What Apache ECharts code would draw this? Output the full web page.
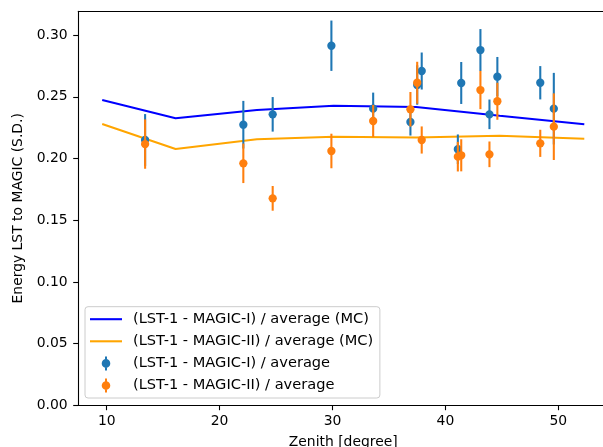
<!DOCTYPE html>
<html>
<head>
<meta charset="utf-8">
<script src="https://cdn.jsdelivr.net/npm/echarts@6/dist/echarts.min.js"></script>
<style>
html,body{margin:0;padding:0;background:#fff;overflow:hidden;}
#chart{width:603px;height:447px;}
</style>
</head>
<body>
<div id="chart"></div>
<script>
// Measured points (zenith in degrees)
var zenith = [13.4, 22.1, 24.7, 29.9, 33.6, 36.9, 37.5, 37.9, 41.1, 41.4, 43.1, 43.9, 44.6, 48.4, 49.6];
// (LST-1 - MAGIC-I) / average
var magic1Val = [0.215, 0.2274, 0.2358, 0.2914, 0.2404, 0.2296, 0.2596, 0.2709, 0.2075, 0.2612, 0.2879, 0.2358, 0.2663, 0.2614, 0.2404];
var magic1Err = [0.021, 0.0193, 0.014, 0.0204, 0.013, 0.011, 0.016, 0.015, 0.012, 0.017, 0.017, 0.012, 0.016, 0.0135, 0.029];
// (LST-1 - MAGIC-II) / average
var magic2Val = [0.2117, 0.1961, 0.1677, 0.2061, 0.2304, 0.2399, 0.2614, 0.215, 0.2015, 0.2026, 0.2555, 0.2034, 0.2464, 0.2123, 0.2258];
var magic2Err = [0.02, 0.016, 0.01, 0.014, 0.013, 0.014, 0.017, 0.011, 0.012, 0.013, 0.0155, 0.0104, 0.015, 0.011, 0.027];
// MC curves
var mcZenith = [9.6, 16.1, 23.3, 30.1, 37.4, 44.8, 52.3];
var mcMagic1 = [0.2474, 0.2326, 0.2393, 0.2428, 0.2417, 0.2346, 0.2277];
var mcMagic2 = [0.228, 0.2077, 0.2156, 0.2177, 0.2170, 0.2185, 0.2160];
// Tick labels
var xTicks = [10, 20, 30, 40, 50];
var yTicks = [0, 0.05, 0.10, 0.15, 0.20, 0.25, 0.30];

var FONT = 'DejaVu Sans';
var FS = 13.9;
var LFS = 14.6;

function errRender(params, api) {
  var x = api.value(0), y = api.value(1), e = api.value(2);
  var c = api.coord([x, y]);
  var t = api.coord([x, y + e]);
  var b = api.coord([x, y - e]);
  var color = api.visual('color');
  return {
    type: 'group',
    children: [
      {type: 'line', shape: {x1: t[0], y1: t[1], x2: b[0], y2: b[1]}, style: {stroke: color, lineWidth: 2.08}},
      {type: 'circle', shape: {cx: c[0], cy: c[1], r: 4.15}, style: {fill: color}}
    ]
  };
}

var errIcon = 'path://M4,0 L6,0 L6,14 L4,14 Z M9.3,7 A4.3,4.3 0 1,1 0.7,7 A4.3,4.3 0 1,1 9.3,7 Z';
var lineIcon = 'path://M0,0 L32,0 L32,2.08 L0,2.08 Z';

var names = ['(LST-1 - MAGIC-I) / average (MC)', '(LST-1 - MAGIC-II) / average (MC)',
             '(LST-1 - MAGIC-I) / average', '(LST-1 - MAGIC-II) / average'];

var xMin = 7.465, xMax = 54.435, yMin = 0, yMax = 0.3193;

var chart = echarts.init(document.getElementById('chart'), null, {renderer: 'canvas'});
chart.setOption({
  animation: false,
  backgroundColor: '#ffffff',
  textStyle: {fontFamily: FONT},
  grid: {left: 78.1, top: 11.3, width: 530.3, height: 394, containLabel: false, outerBoundsMode: 'none'},
  legend: {
    orient: 'vertical',
    left: 85,
    top: 306.7,
    padding: [5, 6.7, 5, 5],
    itemWidth: 32,
    itemHeight: 14,
    itemGap: 7.1,
    backgroundColor: 'rgba(255,255,255,0.8)',
    borderColor: '#cccccc',
    borderWidth: 1,
    borderRadius: 3,
    textStyle: {fontFamily: FONT, fontSize: LFS, color: '#000', lineHeight: 14.6, padding: [0, 0, 0, 6]},
    data: [
      {name: names[0], icon: lineIcon},
      {name: names[1], icon: lineIcon},
      {name: names[2], icon: errIcon},
      {name: names[3], icon: errIcon}
    ]
  },
  xAxis: {
    type: 'value', min: xMin, max: xMax, position: 'bottom',
    name: 'Zenith [degree]', nameLocation: 'middle', nameGap: 30,
    nameTextStyle: {fontFamily: FONT, fontSize: FS, color: '#000'},
    axisLine: {show: true, onZero: false, lineStyle: {color: '#000000', width: 1.1}},
    axisTick: {show: true, length: 4.9, lineStyle: {color: '#000', width: 1.1}, customValues: xTicks},
    axisLabel: {show: true, margin: 9.5, fontFamily: FONT, fontSize: FS, color: '#000', customValues: xTicks},
    splitLine: {show: false}
  },
  yAxis: {
    type: 'value', min: yMin, max: yMax,
    name: 'Energy LST to MAGIC (S.D.)', nameLocation: 'middle', nameGap: 42,
    nameTextStyle: {fontFamily: FONT, fontSize: FS, color: '#000'},
    axisLine: {show: true, onZero: false, lineStyle: {color: '#000000', width: 1.1}},
    axisTick: {show: true, length: 4.9, lineStyle: {color: '#000', width: 1.1}, customValues: yTicks},
    axisLabel: {show: true, margin: 10.5, fontFamily: FONT, fontSize: FS, color: '#000', customValues: yTicks,
      formatter: function (v) { return v.toFixed(2); }},
    splitLine: {show: false}
  },
  series: [
    {
      name: names[0], type: 'line', symbol: 'none', z: 2, clip: false,
      data: mcZenith.map(function (z, i) { return [z, mcMagic1[i]]; }),
      lineStyle: {color: '#0000ff', width: 2.08},
      itemStyle: {color: '#0000ff'},
      markLine: {
        silent: true, symbol: ['none', 'none'], animation: false,
        label: {show: false},
        lineStyle: {color: '#000000', width: 1.1, type: 'solid'},
        data: [[{coord: [xMin, yMax]}, {coord: [xMax, yMax]}]]
      }
    },
    {
      name: names[1], type: 'line', symbol: 'none', z: 2,
      data: mcZenith.map(function (z, i) { return [z, mcMagic2[i]]; }),
      lineStyle: {color: '#ffa500', width: 2.08},
      itemStyle: {color: '#ffa500'}
    },
    {
      name: names[2], type: 'custom', z: 3,
      renderItem: errRender,
      encode: {x: 0, y: 1},
      itemStyle: {color: '#1f77b4'},
      data: zenith.map(function (z, i) { return [z, magic1Val[i], magic1Err[i]]; })
    },
    {
      name: names[3], type: 'custom', z: 3,
      renderItem: errRender,
      encode: {x: 0, y: 1},
      itemStyle: {color: '#ff7f0e'},
      data: zenith.map(function (z, i) { return [z, magic2Val[i], magic2Err[i]]; })
    }
  ]
});
</script>
</body>
</html>
